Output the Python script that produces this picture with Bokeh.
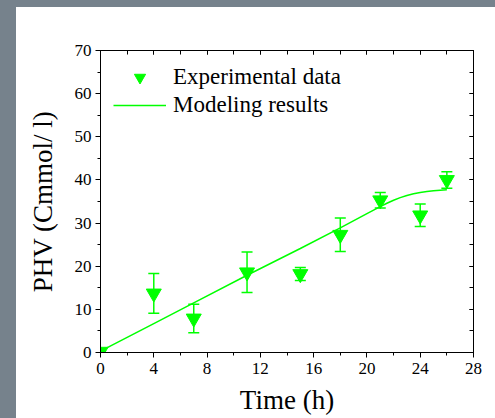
import numpy as np
from bokeh.plotting import figure
from bokeh.models import (ColumnDataSource, Whisker, TeeHead, LinearAxis,
                          SingleIntervalTicker, Legend, LegendItem, Spacer, Range1d)
from bokeh.layouts import row, column
from bokeh.embed import file_html
from bokeh.resources import INLINE

# ---- data ----
time_exp = [0, 4, 7, 11, 15, 18, 21, 24, 26]
phv_exp = [0.2, 13.7, 7.9, 18.6, 18.2, 27.3, 35.3, 31.8, 40.0]
phv_err = [0.0, 4.6, 3.3, 4.7, 1.5, 3.9, 1.8, 2.6, 1.9]

time_model = [0, 4, 7, 11, 15, 18, 20, 21, 21.5, 22, 22.5, 23, 23.5, 24, 24.5, 25, 25.5, 26]
phv_model = [0.3, 6.7, 11.5, 17.9, 24.1, 28.9, 32.2, 33.8, 34.6, 35.3, 35.9, 36.4,
             36.8, 37.1, 37.3, 37.5, 37.6, 37.7]

x_ticks_interval = 4
y_ticks_interval = 10

GREEN = "#00ff00"
GRAY = "#76828c"
FONT = "'Liberation Serif', 'Times New Roman', serif"

t = np.array(time_exp, dtype=float)
v = np.array(phv_exp, dtype=float)
e = np.array(phv_err, dtype=float)
mask = e > 0

src_pts = ColumnDataSource(dict(x=t, y=v))
src_err = ColumnDataSource(dict(x=t[mask], upper=(v + e)[mask], lower=(v - e)[mask]))
src_model = ColumnDataSource(dict(x=time_model, y=phv_model))

p = figure(width=479, height=411, x_range=Range1d(0, 28), y_range=Range1d(0, 70),
           output_backend="svg", toolbar_location=None,
           min_border_left=84, min_border_right=22, min_border_top=43, min_border_bottom=66)
p.xgrid.visible = False
p.ygrid.visible = False
p.outline_line_color = "black"
p.border_fill_color = "white"
p.background_fill_color = "white"

whisk = Whisker(source=src_err, base="x", upper="upper", lower="lower",
                line_color=GREEN, line_width=1.5,
                upper_head=TeeHead(size=11, line_color=GREEN, line_width=1.5),
                lower_head=TeeHead(size=11, line_color=GREEN, line_width=1.5))
p.add_layout(whisk)

line_r = p.line("x", "y", source=src_model, line_color=GREEN, line_width=1.5)
pts_r = p.scatter("x", "y", source=src_pts, marker="inverted_triangle", size=15,
                  fill_color=GREEN, line_color=GREEN)

def style_main(ax, interval):
    ax.ticker = SingleIntervalTicker(interval=interval, num_minor_ticks=2)
    ax.axis_line_color = "black"
    ax.major_tick_line_color = "black"
    ax.minor_tick_line_color = "black"
    ax.major_tick_out = 5
    ax.major_tick_in = 0
    ax.minor_tick_out = 3
    ax.minor_tick_in = 0
    ax.major_label_text_font = FONT
    ax.major_label_text_font_size = "17px"
    ax.major_label_text_color = "black"
    ax.axis_label_text_font = FONT
    ax.axis_label_text_font_style = "normal"
    ax.axis_label_text_color = "black"

xa = p.xaxis[0]
ya = p.yaxis[0]
style_main(xa, x_ticks_interval)
style_main(ya, y_ticks_interval)
xa.axis_label = "Time (h)"
ya.axis_label = "PHV (Cmmol/ l)"
xa.axis_label_text_font_size = "27px"
ya.axis_label_text_font_size = "27px"
xa.major_label_standoff = 5
ya.major_label_standoff = 4
xa.axis_label_standoff = 8
ya.axis_label_standoff = 14

def style_mirror(ax, interval):
    ax.ticker = SingleIntervalTicker(interval=interval, num_minor_ticks=2)
    ax.axis_line_color = "black"
    ax.major_tick_line_color = "black"
    ax.minor_tick_line_color = "black"
    ax.major_tick_out = 0
    ax.major_tick_in = 4
    ax.minor_tick_out = 0
    ax.minor_tick_in = 4
    ax.major_label_text_font_size = "0px"
    ax.major_label_text_alpha = 0
    ax.major_label_standoff = 0

top_ax = LinearAxis()
style_mirror(top_ax, x_ticks_interval)
p.add_layout(top_ax, "above")
right_ax = LinearAxis()
style_mirror(right_ax, y_ticks_interval)
p.add_layout(right_ax, "right")

legend = Legend(items=[LegendItem(label="Experimental data", renderers=[pts_r]),
                       LegendItem(label="Modeling results", renderers=[line_r])],
                location="top_left", border_line_color=None, background_fill_alpha=0,
                label_text_font=FONT, label_text_font_size="23px", label_text_color="black",
                glyph_width=53, glyph_height=28, label_height=28, label_standoff=7,
                padding=0, margin=13, spacing=0)
p.add_layout(legend)

left_pad = Spacer(width=16, height=418, styles={"background-color": GRAY})
top_pad = Spacer(width=479, height=7, styles={"background-color": GRAY})
layout = row(left_pad, column(top_pad, p))

open("out.html", "w").write(file_html(layout, INLINE))
